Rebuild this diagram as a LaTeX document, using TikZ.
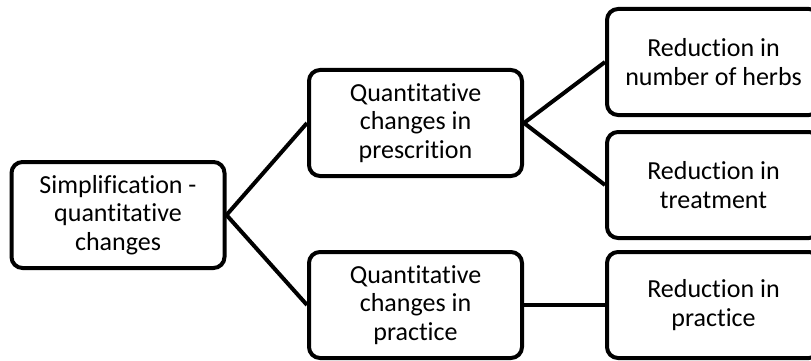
\documentclass[tikz,border=0pt]{standalone}
\usepackage{fontspec}
\setmainfont{Carlito}[Ligatures=NoCommon]
\begin{document}
\begin{tikzpicture}[x=1pt,y=-1pt,
  box/.style={draw=black, line width=4pt, rounded corners=11pt, fill=white,
    minimum width=213pt, minimum height=106pt, inner sep=0pt, align=center,
    font=\fontsize{26}{28.5}\selectfont},
  link/.style={line width=4pt}]
\useasboundingbox (0,0) rectangle (811,361);
\node[box] (root) at (118,215) {Simplification -\\quantitative\\changes};
\node[box] (presc) at (415.5,123) {Quantitative\\changes in\\prescrition};
\node[box] (pract) at (415.5,305) {Quantitative\\changes in\\practice};
\node[box] (herbs) at (713.5,62) {Reduction in\\number of herbs};
\node[box] (treat) at (713.5,185) {Reduction in\\treatment};
\node[box] (redpr) at (713.5,305) {Reduction in\\practice};
\draw[link] (root.east) -- (presc.west);
\draw[link] (root.east) -- (pract.west);
\draw[link] (presc.east) -- (herbs.west);
\draw[link] (presc.east) -- (treat.west);
\draw[link] (pract.east) -- (redpr.west);
\end{tikzpicture}
\end{document}
